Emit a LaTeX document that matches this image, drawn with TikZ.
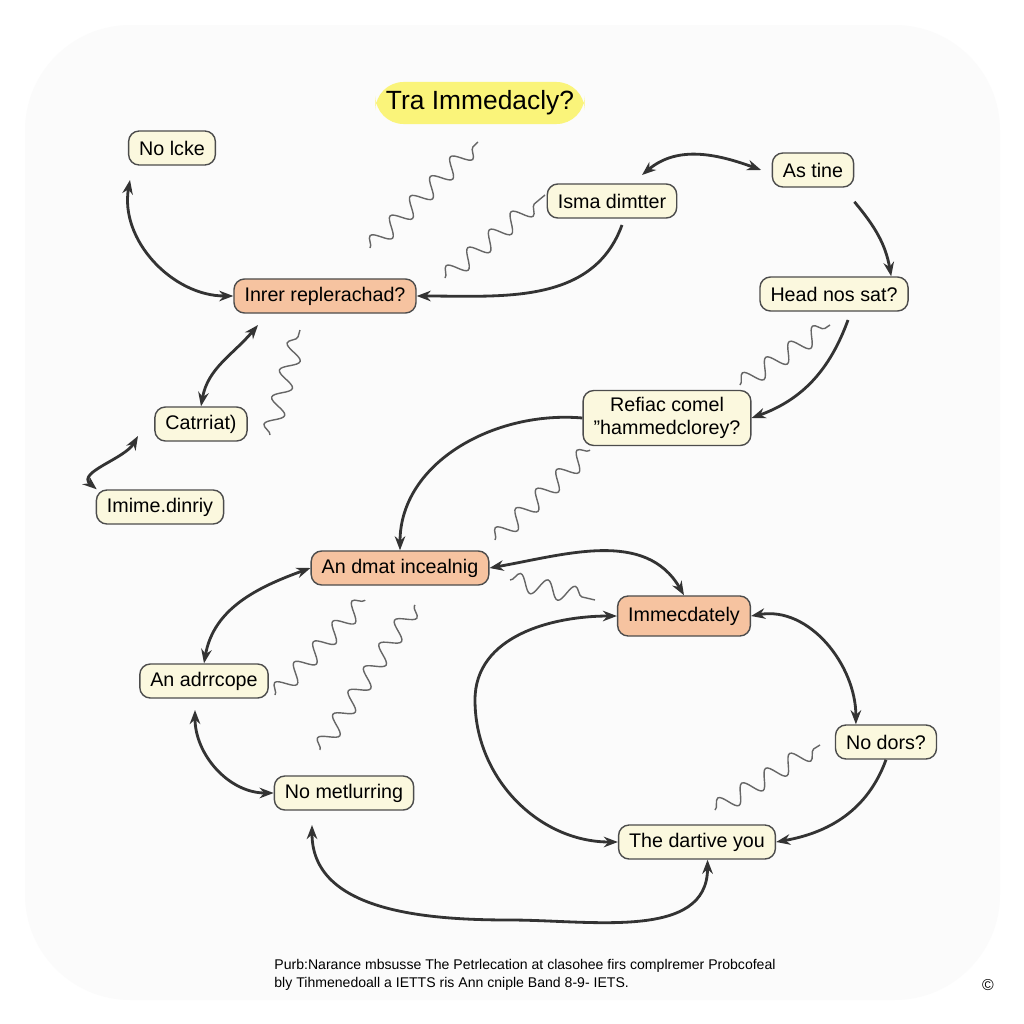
\documentclass[tikz,border=0pt]{standalone}
\usepackage{fontspec}
\setmainfont{Liberation Sans}
\usetikzlibrary{arrows.meta,decorations.pathmorphing}
\definecolor{cream}{HTML}{FBF8DE}
\definecolor{peach}{HTML}{F6C3A0}
\definecolor{titley}{HTML}{FAF47A}
\begin{document}
\begin{tikzpicture}[x=0.01cm,y=-0.01cm,
    box/.style={draw=black!70, fill=cream, rounded corners=3pt, inner xsep=3pt, inner ysep=2pt, minimum height=0.34cm, align=center, font=\fontsize{5.6}{6.4}\selectfont},
    hot/.style={box, fill=peach},
    arrow/.style={-{Stealth[length=4pt]}, thick, black!80},
    both/.style={{Stealth[length=4pt]}-{Stealth[length=4pt]}, thick, black!80},
    wiggle/.style={black!60, decorate, decoration={snake, amplitude=2.5pt, segment length=8pt}}
]
\fill[white] (0,0) rectangle (1024,1024);
\fill[black!1.5, rounded corners=30pt] (25,25) rectangle (1000,1000);

% Nodes
\node[box, fill=titley, draw=none, rounded corners=8pt, minimum height=0.42cm, font=\fontsize{7.5}{8.5}\selectfont] (title) at (480,103) {Tra Immedacly?};
\node[box] (nolcke) at (172,148) {No lcke};
\node[box] (isma) at (612,201) {Isma dimtter};
\node[box] (astine) at (813,170) {As tine};
\node[hot] (inrer) at (325,296) {Inrer replerachad?};
\node[box] (head) at (834,294) {Head nos sat?};
\node[box] (catr) at (201,424) {Catrriat)};
\node[box] (refiac) at (667,418) {Refiac comel\\"hammedclorey?};
\node[box] (imime) at (160,507) {Imime.dinriy};
\node[hot] (dmat) at (400,568) {An dmat incealnig};
\node[hot, minimum height=0.4cm] (immec) at (684,616) {Immecdately};
\node[box] (adrr) at (204,681) {An adrrcope};
\node[box] (nodors) at (886,742) {No dors?};
\node[box] (metl) at (344,793) {No metlurring};
\node[box] (dart) at (697,842) {The dartive you};

% Footer
\node[font=\fontsize{4}{5}\selectfont, align=left] (foot) at (525,975) {Purb:Narance mbsusse The Petrlecation at clasohee firs complremer Probcofeal\\bly Tihmenedoall a IETTS ris Ann cniple Band 8-9- IETS.};
\node[font=\fontsize{4.5}{5}\selectfont] (copy) at (988,985) {\textcopyright};

% Free ends
\coordinate (c1) at (130,180);
\coordinate (c2) at (622,225);
\coordinate (c3) at (642,175);
\coordinate (c4) at (848,320);
\coordinate (c5) at (258,325);
\coordinate (c6) at (138,436);
\coordinate (c7) at (195,710);
\coordinate (c8) at (312,825);

% Connectors
\draw[both] (c1) to[out=260, in=180] (inrer.west);
\draw[arrow] (c2) to[out=250, in=0] (inrer.east);
\draw[both] (c3) to[out=40, in=160] ([xshift=-3pt]astine.west);
\draw[arrow] ([yshift=-4pt]astine.south east) to[out=-50, in=100] ([xshift=-5pt]head.north east);
\draw[arrow] (c4) to[out=250, in=20] (refiac.east);
\draw[both] (c5) to[out=230, in=80] (catr.north);
\draw[both] (c6) to[out=240, in=140] ([xshift=-18pt]imime.north);
\draw[arrow] (refiac.west) to[out=175, in=90] (dmat.north);
\draw[both] (dmat.east) to[out=10, in=120] (immec.north);
\draw[both] (dmat.west) to[out=200, in=80] (adrr.north);
\draw[both] (c7) to[out=270, in=180] (metl.west);
\draw[both] (dart.west) to[out=180, in=270] (475,700) to[out=90, in=180] (immec.west);
\draw[both] (immec.east) to[out=10, in=90] ([xshift=6pt]nodors.north west);
\draw[arrow] (nodors.south) to[out=250, in=10] (dart.east);
\draw[both] (c8) to[out=270, in=180] (510,920) to[out=0, in=270] ([xshift=3pt]dart.south);

% Squiggles
\draw[wiggle] (370,248) -- (478,142);
\draw[wiggle] (445,278) -- (545,195);
\draw[wiggle] (270,435) -- (300,330);
\draw[wiggle] (740,385) -- (830,325);
\draw[wiggle] (495,540) -- (590,450);
\draw[wiggle] (510,580) -- (595,600);
\draw[wiggle] (275,695) -- (365,600);
\draw[wiggle] (320,750) -- (415,605);
\draw[wiggle] (715,810) -- (820,745);
\end{tikzpicture}
\end{document}
